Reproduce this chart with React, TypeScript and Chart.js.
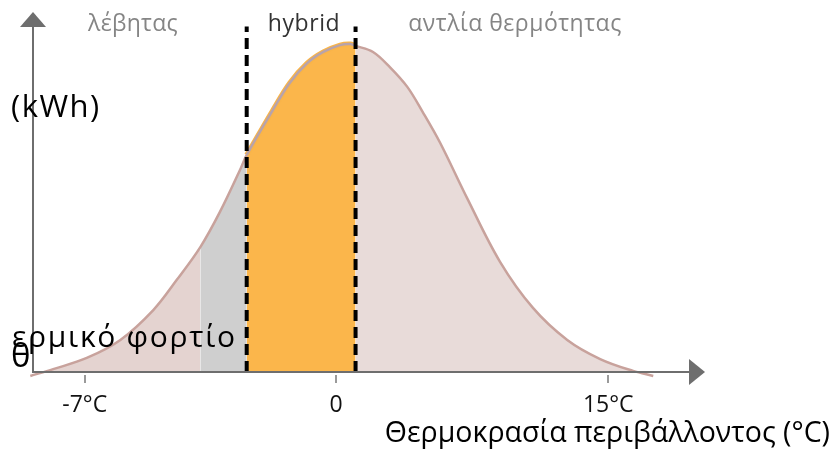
import React, { useEffect, useRef } from "react";
import { Chart, registerables } from "chart.js";

Chart.register(...registerables);

// Schematic position along the ambient-temperature axis (0 = y axis, 100 = arrow tip)
const axisPos = [-0.4, 3.0, 8.0, 13.0, 17.9, 21.4, 24.9, 27.8, 30.8, 31.8, 35.7, 38.2, 40.8, 43.2, 45.7, 47.2, 48.0, 50.6, 53.1, 55.7, 58.0, 60.6, 64.6, 69.5, 74.4, 79.5, 84.4, 89.3, 92.3];
// Heat load (kWh, relative units, 100 = arrow tip)
const heatLoad = [-1.1, 0.8, 3.9, 8.9, 17.2, 25.6, 34.7, 44.4, 56.1, 60.3, 72.8, 80.3, 85.8, 88.9, 90.8, 91.1, 90.6, 88.9, 84.7, 79.2, 72.2, 63.6, 48.3, 30.6, 17.8, 8.9, 3.6, 0.3, -1.1];

// Zone edges (same schematic units)
const boilerEnd = 24.9;
const hybridStart = 31.8;
const hybridEnd = 48.0;
const dividerTop = 96;

// Axis ticks
const tickPos = [7.7, 45.1, 85.6];
const tickLabels = ["-7°C", "0", "15°C"];

const FONT = '"Open Sans", "Noto Sans", sans-serif';
const TENSION = 0.35;

function pointsBetween(a: number, b: number) {
  const out: { x: number; y: number }[] = [];
  axisPos.forEach((p, i) => {
    if (p >= a - 1e-6 && p <= b + 1e-6) out.push({ x: p, y: heatLoad[i] });
  });
  return out;
}

function text(ctx: any, s: string, x: number, y: number, font: string, color: string, align: string, spacing: number) {
  ctx.font = font;
  ctx.fillStyle = color;
  ctx.textAlign = align;
  ctx.letterSpacing = `${spacing}px`;
  ctx.fillText(s, x, y);
}

const decorPlugin = {
  id: "decor",
  afterDatasetsDraw(chart: any) {
    const { ctx, scales } = chart;
    const x = scales.x;
    const y = scales.y;
    const x0 = x.getPixelForValue(0);
    const y0 = y.getPixelForValue(0);
    const xEnd = x.getPixelForValue(100);
    const yEnd = y.getPixelForValue(100);
    ctx.save();
    ctx.strokeStyle = "#6e6e6e";
    ctx.fillStyle = "#6e6e6e";
    ctx.lineWidth = 2;
    // y axis
    ctx.beginPath();
    ctx.moveTo(x0, y0 + 1);
    ctx.lineTo(x0, yEnd + 14);
    ctx.stroke();
    ctx.beginPath();
    ctx.moveTo(x0, yEnd);
    ctx.lineTo(x0 - 13, yEnd + 15);
    ctx.lineTo(x0 + 13, yEnd + 15);
    ctx.closePath();
    ctx.fill();
    // x axis
    ctx.beginPath();
    ctx.moveTo(x0 - 1, y0);
    ctx.lineTo(xEnd - 15, y0);
    ctx.stroke();
    ctx.beginPath();
    ctx.moveTo(xEnd, y0);
    ctx.lineTo(xEnd - 16, y0 - 13);
    ctx.lineTo(xEnd - 16, y0 + 13);
    ctx.closePath();
    ctx.fill();
    // tick marks
    ctx.strokeStyle = "#9a9a9a";
    ctx.lineWidth = 2;
    tickPos.forEach((p) => {
      const px = Math.round(x.getPixelForValue(p));
      ctx.beginPath();
      ctx.moveTo(px, y0 + 3);
      ctx.lineTo(px, y0 + 11);
      ctx.stroke();
    });
    // texts
    ctx.textBaseline = "alphabetic";
    text(ctx, "λέβητας", 133, 31, `23px ${FONT}`, "#858585", "center", 0.3);
    text(ctx, "hybrid", 304, 31, `23px ${FONT}`, "#333333", "center", 0.6);
    text(ctx, "αντλία θερμότητας", 515, 31, `23px ${FONT}`, "#858585", "center", 0.5);
    text(ctx, "(kWh)", 11, 117, `31px ${FONT}`, "#000000", "left", 1.5);
    text(ctx, "ερμικό φορτίο", 12, 347, `30px ${FONT}`, "#000000", "left", 1.7);
    text(ctx, "θ", 11, 367, `33px ${FONT}`, "#000000", "left", 0);
    text(ctx, "Θερμοκρασία περιβάλλοντος (°C)", 830, 442, `28.5px ${FONT}`, "#000000", "right", 0);
    ctx.letterSpacing = "0px";
    ctx.restore();
  },
};

export default function App() {
  const ref = useRef<HTMLCanvasElement | null>(null);
  useEffect(() => {
    if (!ref.current) return;
    const full = axisPos.map((p, i) => ({ x: p, y: heatLoad[i] }));
    const chart = new Chart(ref.current, {
      type: "line",
      data: {
        datasets: [
          {
            data: [{ x: hybridStart, y: 0 }, { x: hybridStart, y: dividerTop }],
            borderColor: "#000",
            borderWidth: 4,
            borderDash: [11, 6],
            pointRadius: 0,
            fill: false,
            clip: false,
          } as any,
          {
            data: [{ x: hybridEnd, y: 0 }, { x: hybridEnd, y: dividerTop }],
            borderColor: "#000",
            borderWidth: 4,
            borderDash: [11, 6],
            pointRadius: 0,
            fill: false,
            clip: false,
          },
          {
            data: full,
            borderColor: "#c8a29c",
            borderWidth: 2.5,
            pointRadius: 0,
            fill: false,
            tension: TENSION,
            clip: false,
            segment: {
              borderColor: (c: any) => {
                const px = c.p0.parsed.x;
                return px >= hybridStart - 0.01 && px < hybridEnd - 0.01 ? "#b8a3aa" : "#c8a29c";
              },
            },
          },
          {
            data: pointsBetween(hybridStart, hybridEnd),
            borderColor: "#f9b449",
            borderWidth: 5,
            backgroundColor: "#fbb64b",
            pointRadius: 0,
            fill: "origin",
            tension: TENSION,
          },
          {
            data: pointsBetween(boilerEnd, hybridStart),
            borderColor: "rgba(0,0,0,0)",
            borderWidth: 0,
            backgroundColor: "#cfcfcf",
            pointRadius: 0,
            fill: "origin",
            tension: TENSION,
          },
          {
            data: pointsBetween(-10, boilerEnd),
            borderColor: "rgba(0,0,0,0)",
            borderWidth: 0,
            backgroundColor: "#e4d3d0",
            pointRadius: 0,
            fill: "origin",
            tension: TENSION,
          },
          {
            data: pointsBetween(hybridEnd, 200),
            borderColor: "rgba(0,0,0,0)",
            borderWidth: 0,
            backgroundColor: "#e8dbd9",
            pointRadius: 0,
            fill: "origin",
            tension: TENSION,
          },
        ],
      },
      options: {
        responsive: false,
        animation: false,
        layout: { padding: { left: 33, right: 130, top: 12, bottom: 0 } },
        plugins: { legend: { display: false }, tooltip: { enabled: false } },
        scales: {
          x: {
            type: "linear",
            min: 0,
            max: 100,
            grid: { display: false, drawTicks: false },
            border: { display: false },
            afterBuildTicks: (scale: any) => {
              scale.ticks = tickPos.map((v) => ({ value: v }));
            },
            afterFit: (scale: any) => {
              scale.height = 80;
            },
            ticks: {
              autoSkip: false,
              maxRotation: 0,
              padding: 20,
              color: "#111",
              font: { family: FONT, size: 23 },
              callback: (_v: any, i: number) => tickLabels[i],
            },
          },
          y: {
            type: "linear",
            min: 0,
            max: 100,
            display: false,
          },
        },
      } as any,
      plugins: [decorPlugin],
    });
    return () => chart.destroy();
  }, []);
  return (
    <div style={{ position: "absolute", left: 0, top: 0, width: 835, height: 452 }}>
      <canvas ref={ref} width={835} height={452} style={{ display: "block" }} />
    </div>
  );
}
